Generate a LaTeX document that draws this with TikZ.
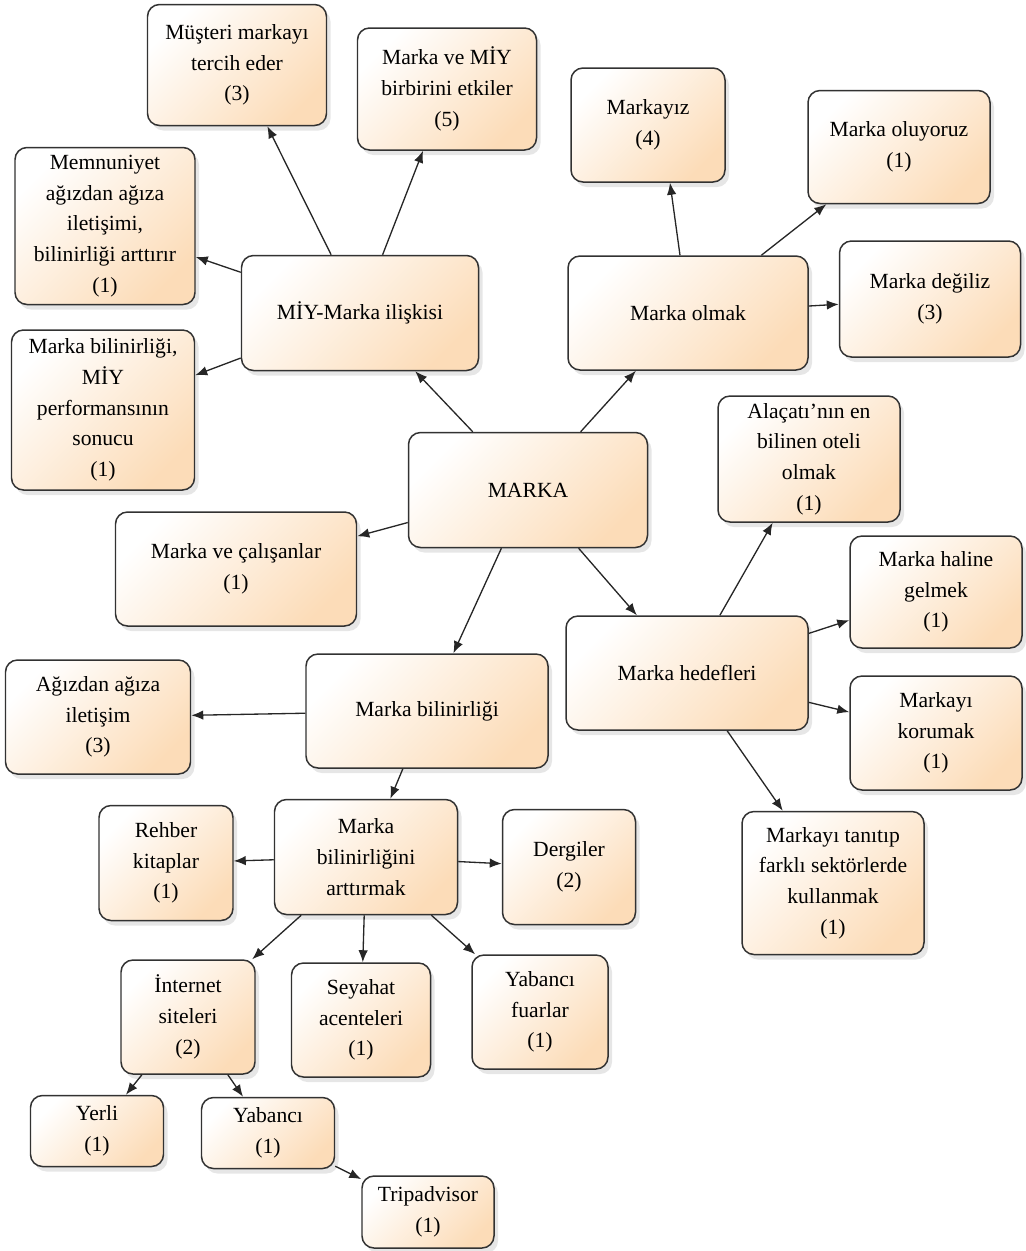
\documentclass[tikz,border=0pt]{standalone}
\usepackage{fontspec}
\setmainfont{Liberation Serif}
\usetikzlibrary{arrows.meta,calc,shadows}
\definecolor{peach}{RGB}{252,220,184}
\definecolor{edge}{RGB}{50,50,50}

\begin{document}
\begin{tikzpicture}[
  x=0.2mm, y=-0.2mm,
  font=\fontsize{12.3}{17.5}\selectfont,
  box/.style={draw=edge, line width=0.85pt, rounded corners=2.4mm, align=center,
    top color=white, bottom color=peach, shading angle=45,
    drop shadow={shadow xshift=0.8mm, shadow yshift=-1mm, opacity=0.2},
    inner xsep=0pt, inner ysep=2pt},
  sz/.style 2 args={minimum width=#1*0.2mm, minimum height=#2*0.2mm},
  arr/.style={-{Latex[length=2.4mm,width=1.9mm]}, line width=0.75pt, draw=black!85}
]
\useasboundingbox (0,0) rectangle (1026,1251);

% --- centre ---
\node[box, sz={239}{115}] (marka) at (528,490) {MARKA};

% --- MIY-Marka branch ---
\node[box, sz={237}{115}] (miy) at (360,313) {MİY-Marka ilişkisi};
\node[box, sz={179}{121}] (mus) at (237,65) {Müşteri markayı\\tercih eder\\(3)};
\node[box, sz={179}{122}] (etk) at (447,89) {Marka ve MİY\\birbirini etkiler\\(5)};
\node[box, sz={180}{157}] (mem) at (105,226) {Memnuniyet\\ağızdan ağıza\\iletişimi,\\bilinirliği arttırır\\(1)};
\node[box, sz={183}{160}] (per) at (103,410) {Marka bilinirliği,\\MİY\\performansının\\sonucu\\(1)};

% --- Marka olmak branch ---
\node[box, sz={240}{114}] (olm) at (688,313) {Marka olmak};
\node[box, sz={154}{114}] (miz) at (648,125) {Markayız\\(4)};
\node[box, sz={182}{113}] (oluy) at (899,147) {Marka oluyoruz\\(1)};
\node[box, sz={181}{116}] (deg) at (930,299) {Marka değiliz\\(3)};

% --- Marka hedefleri branch ---
\node[box, sz={242}{114}] (hed) at (687,673) {Marka hedefleri};
\node[box, sz={182}{126}] (ala) at (809,459) {Alaçatı'nın en\\bilinen oteli\\olmak\\(1)};
\node[box, sz={172}{112}] (hal) at (936,592) {Marka haline\\gelmek\\(1)};
\node[box, sz={172}{114}] (kor) at (936,733) {Markayı\\korumak\\(1)};
\node[box, sz={182}{143}] (tan) at (833,883) {Markayı tanıtıp\\farklı sektörlerde\\kullanmak\\(1)};

% --- calisanlar ---
\node[box, sz={241}{114}] (cal) at (236,569) {Marka ve çalışanlar\\(1)};

% --- Marka bilinirligi branch ---
\node[box, sz={242}{114}] (bil) at (427,711) {Marka bilinirliği};
\node[box, sz={185}{114}] (agz) at (98,717) {Ağızdan ağıza\\iletişim\\(3)};
\node[box, sz={183}{115}] (art) at (366,857) {Marka\\bilinirliğini\\arttırmak};
\node[box, sz={134}{115}] (reh) at (166,863) {Rehber\\kitaplar\\(1)};
\node[box, sz={133}{115}] (der) at (569,867) {Dergiler\\(2)};
\node[box, sz={134}{114}] (int) at (188,1017) {İnternet\\siteleri\\(2)};
\node[box, sz={139}{114}] (sey) at (361,1020) {Seyahat\\acenteleri\\(1)};
\node[box, sz={136}{114}] (fua) at (540,1012) {Yabancı\\fuarlar\\(1)};
\node[box, sz={133}{71}] (yer) at (97,1131) {Yerli\\(1)};
\node[box, sz={133}{71}] (yab) at (268,1133) {Yabancı\\(1)};
\node[box, sz={132}{72}] (tri) at (428,1212) {Tripadvisor\\(1)};

% --- connectors ---
\draw[arr] (marka) -- (miy);
\draw[arr] (marka) -- (olm);
\draw[arr] (marka) -- (cal);
\draw[arr] (marka) -- (bil);
\draw[arr] (marka) -- (hed);

\draw[arr] (miy) -- (mus);
\draw[arr] (miy) -- (etk);
\draw[arr] (miy) -- (mem);
\draw[arr] (miy) -- (per);

\draw[arr] ($(olm.north)+(-8,0)$) -- ($(miz.south)+(22,0)$);
\draw[arr] (olm) -- (oluy);
\draw[arr] (olm) -- (deg);

\draw[arr] (hed) -- (ala);
\draw[arr] (hed) -- (hal);
\draw[arr] (hed) -- (kor);
\draw[arr] (hed) -- (tan);

\draw[arr] (bil) -- (agz);
\draw[arr] (bil) -- (art);
\draw[arr] (art) -- (reh);
\draw[arr] (art) -- (der);
\draw[arr] (art) -- (int);
\draw[arr] (art) -- (sey);
\draw[arr] (art) -- (fua);
\draw[arr] (int) -- (yer);
\draw[arr] (int) -- (yab);
\draw[arr] (yab) -- (tri);
\end{tikzpicture}
\end{document}
